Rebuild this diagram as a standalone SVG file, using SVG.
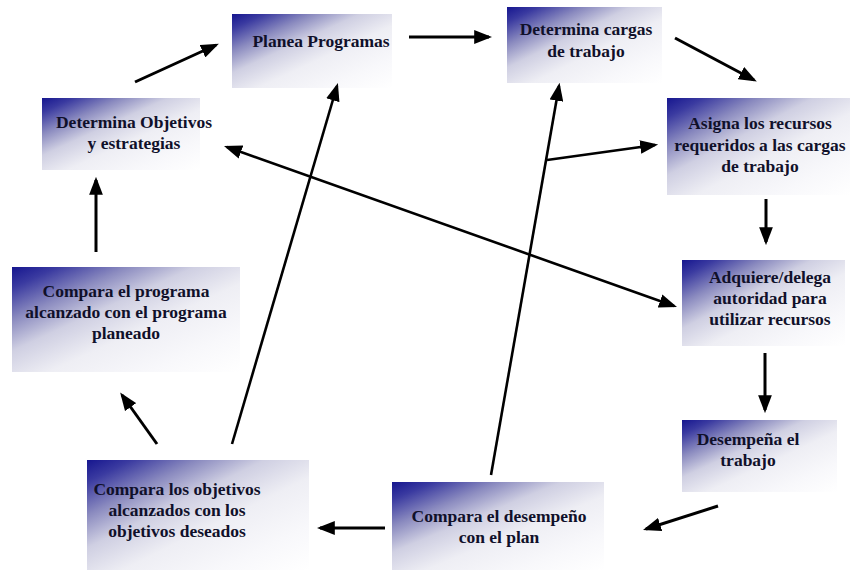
<svg xmlns="http://www.w3.org/2000/svg" width="850" height="576" viewBox="0 0 850 576">
  <style>
    .box { fill: url(#boxGrad); }
    .lbl { font-family: "Liberation Serif", "Times New Roman", serif; font-weight: bold; font-size: 17.5px; fill: #10102a; text-anchor: middle; }
    .arr { stroke: #000; stroke-width: 3; fill: none; marker-end: url(#head); }
    .long { stroke: #000; stroke-width: 2.6; fill: none; marker-end: url(#head); }
    .dbl { stroke: #000; stroke-width: 2.6; fill: none; marker-end: url(#head); marker-start: url(#tail); }
  </style>
  <defs>
    <linearGradient id="boxGrad" x1="0" y1="0" x2="1" y2="1">
      <stop offset="0" stop-color="#16168f"/>
      <stop offset="0.1" stop-color="#3a3aa0"/>
      <stop offset="0.25" stop-color="#8a8abf"/>
      <stop offset="0.4" stop-color="#cfcfe2"/>
      <stop offset="0.58" stop-color="#eeeef4"/>
      <stop offset="0.8" stop-color="#f8f8fb"/>
      <stop offset="1" stop-color="#ffffff"/>
    </linearGradient>
    <marker id="head" markerUnits="userSpaceOnUse" markerWidth="18" markerHeight="14" refX="14" refY="6.5" orient="auto" viewBox="0 0 17 13">
      <path d="M0,0 L17,6.5 L0,13 Z" fill="#000"/>
    </marker>
    <marker id="tail" markerUnits="userSpaceOnUse" markerWidth="18" markerHeight="14" refX="3" refY="6.5" orient="auto" viewBox="0 0 17 13">
      <path d="M17,0 L0,6.5 L17,13 Z" fill="#000"/>
    </marker>
  </defs>
  <rect width="850" height="576" fill="#ffffff"/>

  <g id="n-planea">
    <rect class="box" x="232" y="14" width="160" height="74"/>
    <text class="lbl" x="321" y="47">Planea Programas</text>
  </g>
  <g id="n-cargas">
    <rect class="box" x="507" y="7" width="155" height="76"/>
    <text class="lbl" x="586" y="35">Determina cargas</text>
    <text class="lbl" x="586" y="57">de trabajo</text>
  </g>
  <g id="n-objetivos">
    <rect class="box" x="42" y="98" width="158" height="72"/>
    <text class="lbl" x="134" y="128">Determina Objetivos</text>
    <text class="lbl" x="134" y="149">y estrategias</text>
  </g>
  <g id="n-asigna">
    <rect class="box" x="667" y="98" width="183" height="97"/>
    <text class="lbl" x="760" y="129">Asigna los recursos</text>
    <text class="lbl" x="760" y="151">requeridos a las cargas</text>
    <text class="lbl" x="760" y="172">de trabajo</text>
  </g>
  <g id="n-adquiere">
    <rect class="box" x="682" y="260" width="163" height="86"/>
    <text class="lbl" x="770" y="283">Adquiere/delega</text>
    <text class="lbl" x="770" y="304">autoridad para</text>
    <text class="lbl" x="770" y="325">utilizar recursos</text>
  </g>
  <g id="n-desempena">
    <rect class="box" x="682" y="420" width="155" height="72"/>
    <text class="lbl" x="748" y="445">Desempeña el</text>
    <text class="lbl" x="748" y="466">trabajo</text>
  </g>
  <g id="n-compdes">
    <rect class="box" x="392" y="482" width="212" height="88"/>
    <text class="lbl" x="499" y="522">Compara el desempeño</text>
    <text class="lbl" x="499" y="543">con el plan</text>
  </g>
  <g id="n-compobj">
    <rect class="box" x="87" y="460" width="222" height="110"/>
    <text class="lbl" x="177" y="495">Compara los objetivos</text>
    <text class="lbl" x="177" y="516">alcanzados con los</text>
    <text class="lbl" x="177" y="537">objetivos deseados</text>
  </g>
  <g id="n-compprog">
    <rect class="box" x="12" y="267" width="228" height="105"/>
    <text class="lbl" x="126" y="297">Compara el programa</text>
    <text class="lbl" x="126" y="318">alcanzado con el programa</text>
    <text class="lbl" x="126" y="339">planeado</text>
  </g>

  <g id="connectors">
    <line class="arr" x1="135" y1="82" x2="216" y2="45"/>
    <line class="arr" x1="409" y1="37" x2="489" y2="37"/>
    <line class="arr" x1="675" y1="38" x2="754" y2="80"/>
    <line class="arr" x1="766" y1="199" x2="766" y2="242"/>
    <line class="arr" x1="765" y1="353" x2="765" y2="410"/>
    <line class="arr" x1="718" y1="506" x2="646" y2="529"/>
    <line class="arr" x1="385" y1="528" x2="320" y2="528"/>
    <line class="arr" x1="157" y1="444" x2="122" y2="395"/>
    <line class="arr" x1="96" y1="252" x2="96" y2="180"/>
    <line class="long" x1="232" y1="444" x2="337" y2="86"/>
    <line class="long" x1="491" y1="475" x2="559" y2="86"/>
    <line class="long" x1="547" y1="160" x2="655" y2="145"/>
    <line class="dbl" x1="227" y1="147" x2="674" y2="306"/>
  </g>
</svg>
